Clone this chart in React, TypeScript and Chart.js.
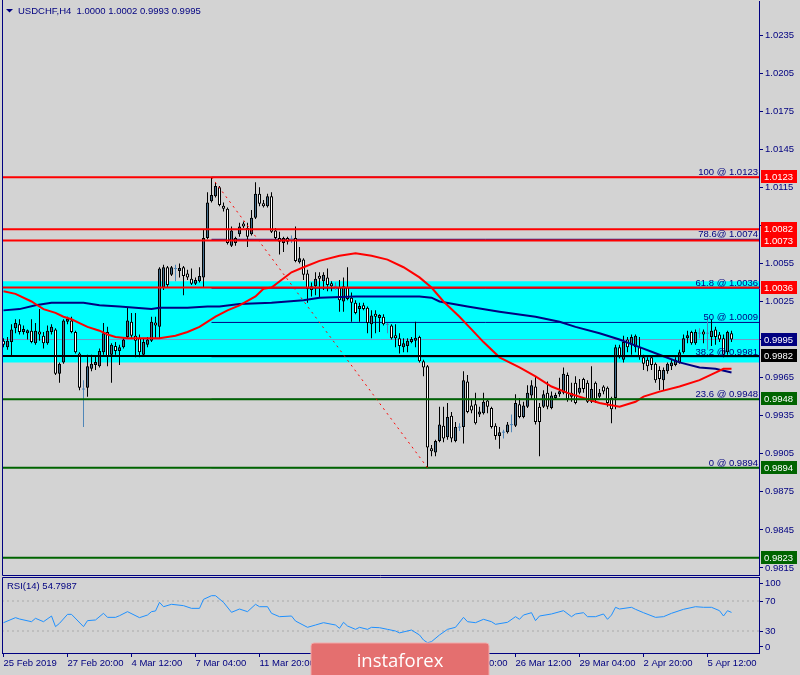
import React, { useEffect, useRef } from "react";
import { Chart, registerables } from "chart.js";

Chart.register(...registerables);

// ---------- data (USDCHF H4) ----------
const openPrices = [
  0.9994, 0.9989, 0.9993, 1.0004, 1.0007, 1.0001, 1.0000, 1.0002, 0.9992, 1.0001,
  0.9998, 0.9992, 1.0001, 1.0003, 0.9968, 0.9977, 1.0009, 1.0010, 1.0001, 0.9984,
  0.9956, 0.9957, 0.9972, 0.9975, 0.9974, 0.9985, 1.0001, 0.9983, 0.9990, 0.9986,
  0.9989, 0.9997, 1.0009, 0.9998, 0.9996, 0.9983, 0.9991, 0.9994, 1.0008, 1.0005,
  1.0036, 1.0052, 1.0046, 1.0051, 1.0049, 1.0052, 1.0047, 1.0043, 1.0039, 1.0041,
  1.0044, 1.0075, 1.0104, 1.0108, 1.0115, 1.0100, 1.0098, 1.0069, 1.0071, 1.0078,
  1.0086, 1.0083, 1.0078, 1.0091, 1.0110, 1.0101, 1.0100, 1.0108, 1.0081, 1.0075,
  1.0071, 1.0075, 1.0074, 1.0075, 1.0056, 1.0058, 1.0047, 1.0034, 1.0037, 1.0044,
  1.0041, 1.0044, 1.0038, 1.0037, 1.0036, 1.0025, 1.0036, 1.0028, 1.0024, 1.0019,
  1.0022, 1.0020, 1.0007, 1.0015, 1.0012, 1.0013, 1.0007, 1.0006, 0.9997, 0.9996,
  0.9989, 0.9990, 0.9993, 0.9994, 0.9997, 0.9978, 0.9974, 0.9909, 0.9906, 0.9915,
  0.9927, 0.9918, 0.9935, 0.9915, 0.9926, 0.9926, 0.9962, 0.9943, 0.9944, 0.9936,
  0.9937, 0.9947, 0.9941, 0.9927, 0.9919, 0.9922, 0.9922, 0.9928, 0.9927, 0.9944,
  0.9934, 0.9942, 0.9951, 0.9958, 0.9942, 0.9942, 0.9953, 0.9941, 0.9949, 0.9952,
  0.9953, 0.9967, 0.9950, 0.9961, 0.9953, 0.9964, 0.9961, 0.9946, 0.9961, 0.9950,
  0.9958, 0.9957, 0.9949, 0.9949, 0.9989, 0.9979, 0.9995, 0.9991, 0.9989, 0.9989,
  0.9981, 0.9979, 0.9981, 0.9976, 0.9971, 0.9963, 0.9970, 0.9974, 0.9975, 0.9977,
  0.9985, 0.9996, 1.0001, 0.9992, 1.0000, 1.0001, 1.0000, 0.9997, 1.0003, 0.9999,
  0.9996, 0.9985, 1.0000,
];
const highPrices = [
  0.9996, 0.9997, 1.0007, 1.0011, 1.0011, 1.0006, 1.0003, 1.0011, 1.0008, 1.0019,
  1.0001, 1.0006, 1.0007, 1.0004, 0.9977, 1.0011, 1.0013, 1.0013, 1.0002, 0.9985,
  0.9963, 0.9983, 0.9983, 0.9982, 0.9988, 1.0008, 1.0005, 0.9992, 0.9993, 0.9991,
  0.9997, 1.0020, 1.0016, 1.0016, 0.9999, 0.9996, 0.9997, 1.0013, 1.0013, 1.0052,
  1.0054, 1.0053, 1.0053, 1.0054, 1.0055, 1.0053, 1.0050, 1.0051, 1.0044, 1.0052,
  1.0082, 1.0111, 1.0123, 1.0119, 1.0116, 1.0103, 1.0099, 1.0084, 1.0076, 1.0087,
  1.0088, 1.0087, 1.0097, 1.0119, 1.0115, 1.0105, 1.0110, 1.0111, 1.0083, 1.0080,
  1.0076, 1.0076, 1.0077, 1.0084, 1.0068, 1.0059, 1.0050, 1.0040, 1.0048, 1.0048,
  1.0048, 1.0051, 1.0041, 1.0040, 1.0042, 1.0044, 1.0052, 1.0032, 1.0026, 1.0024,
  1.0024, 1.0021, 1.0018, 1.0018, 1.0015, 1.0015, 1.0008, 1.0007, 1.0007, 1.0000,
  0.9996, 0.9996, 0.9997, 1.0009, 0.9998, 0.9979, 0.9975, 0.9912, 0.9916, 0.9942,
  0.9942, 0.9945, 0.9938, 0.9930, 0.9929, 0.9970, 0.9967, 0.9948, 0.9953, 0.9942,
  0.9953, 0.9948, 0.9942, 0.9929, 0.9926, 0.9924, 0.9930, 0.9936, 0.9952, 0.9949,
  0.9946, 0.9959, 0.9963, 0.9966, 0.9945, 0.9955, 0.9962, 0.9954, 0.9953, 0.9965,
  0.9973, 0.9969, 0.9961, 0.9966, 0.9964, 0.9965, 0.9963, 0.9974, 0.9962, 0.9956,
  0.9959, 0.9958, 0.9950, 0.9991, 0.9991, 0.9998, 0.9997, 0.9999, 0.9999, 0.9997,
  0.9983, 0.9981, 0.9982, 0.9977, 0.9974, 0.9973, 0.9977, 0.9979, 0.9981, 0.9987,
  0.9999, 1.0002, 1.0002, 1.0003, 1.0004, 1.0003, 1.0012, 1.0011, 1.0005, 1.0001,
  0.9999, 1.0002, 1.0002,
];
const lowPrices = [
  0.9989, 0.9987, 0.9982, 1.0000, 0.9999, 0.9999, 0.9995, 0.9992, 0.9991, 0.9994,
  0.9988, 0.9991, 0.9999, 0.9967, 0.9961, 0.9976, 1.0007, 1.0000, 0.9984, 0.9955,
  0.9926, 0.9950, 0.9970, 0.9971, 0.9973, 0.9983, 0.9974, 0.9961, 0.9983, 0.9975,
  0.9988, 0.9996, 0.9996, 0.9981, 0.9981, 0.9982, 0.9989, 0.9993, 0.9996, 0.9996,
  1.0034, 1.0036, 1.0045, 1.0041, 1.0044, 1.0030, 1.0042, 1.0038, 1.0038, 1.0040,
  1.0036, 1.0074, 1.0103, 1.0107, 1.0100, 1.0096, 1.0070, 1.0068, 1.0069, 1.0076,
  1.0083, 1.0068, 1.0077, 1.0090, 1.0100, 1.0099, 1.0099, 1.0079, 1.0074, 1.0062,
  1.0064, 1.0070, 1.0071, 1.0056, 1.0055, 1.0042, 1.0024, 1.0029, 1.0030, 1.0028,
  1.0034, 1.0033, 1.0033, 1.0034, 1.0017, 1.0017, 1.0026, 1.0009, 1.0015, 1.0009,
  1.0018, 1.0000, 0.9996, 1.0000, 1.0001, 1.0006, 1.0000, 0.9995, 0.9989, 0.9984,
  0.9985, 0.9985, 0.9992, 0.9989, 0.9977, 0.9966, 0.9894, 0.9903, 0.9903, 0.9914,
  0.9914, 0.9916, 0.9914, 0.9914, 0.9923, 0.9913, 0.9937, 0.9937, 0.9928, 0.9934,
  0.9936, 0.9937, 0.9925, 0.9916, 0.9909, 0.9917, 0.9921, 0.9922, 0.9926, 0.9933,
  0.9933, 0.9941, 0.9948, 0.9928, 0.9903, 0.9941, 0.9940, 0.9940, 0.9948, 0.9950,
  0.9952, 0.9946, 0.9946, 0.9944, 0.9952, 0.9953, 0.9945, 0.9945, 0.9945, 0.9949,
  0.9952, 0.9942, 0.9929, 0.9940, 0.9980, 0.9977, 0.9985, 0.9983, 0.9985, 0.9979,
  0.9971, 0.9970, 0.9971, 0.9961, 0.9955, 0.9955, 0.9968, 0.9971, 0.9974, 0.9976,
  0.9984, 0.9992, 0.9991, 0.9991, 0.9996, 0.9992, 0.9987, 0.9990, 0.9991, 0.9993,
  0.9981, 0.9983, 0.9993,
];
const closePrices = [
  0.9991, 0.9994, 1.0003, 1.0008, 1.0001, 1.0003, 1.0002, 0.9993, 1.0002, 0.9999,
  0.9992, 1.0002, 1.0005, 0.9968, 0.9976, 1.0010, 1.0011, 1.0001, 0.9985, 0.9957,
  0.9956, 0.9974, 0.9976, 0.9977, 0.9986, 1.0000, 0.9982, 0.9991, 0.9986, 0.9989,
  0.9995, 1.0010, 0.9998, 0.9994, 0.9985, 0.9993, 0.9995, 1.0009, 1.0006, 1.0051,
  1.0052, 1.0038, 1.0052, 1.0051, 1.0051, 1.0045, 1.0044, 1.0039, 1.0042, 1.0045,
  1.0075, 1.0103, 1.0109, 1.0116, 1.0101, 1.0098, 1.0071, 1.0081, 1.0075, 1.0084,
  1.0084, 1.0076, 1.0091, 1.0110, 1.0102, 1.0100, 1.0108, 1.0080, 1.0075, 1.0072,
  1.0075, 1.0072, 1.0074, 1.0057, 1.0059, 1.0046, 1.0035, 1.0037, 1.0043, 1.0043,
  1.0046, 1.0038, 1.0037, 1.0037, 1.0026, 1.0037, 1.0027, 1.0024, 1.0016, 1.0021,
  1.0019, 1.0008, 1.0014, 1.0013, 1.0013, 1.0007, 1.0007, 0.9996, 0.9996, 0.9990,
  0.9992, 0.9994, 0.9995, 0.9996, 0.9978, 0.9973, 0.9910, 0.9907, 0.9915, 0.9928,
  0.9917, 0.9934, 0.9917, 0.9926, 0.9926, 0.9963, 0.9938, 0.9939, 0.9929, 0.9938,
  0.9946, 0.9942, 0.9926, 0.9919, 0.9922, 0.9922, 0.9928, 0.9928, 0.9945, 0.9934,
  0.9943, 0.9953, 0.9959, 0.9930, 0.9930, 0.9952, 0.9942, 0.9951, 0.9951, 0.9954,
  0.9968, 0.9948, 0.9953, 0.9945, 0.9957, 0.9956, 0.9946, 0.9956, 0.9948, 0.9953,
  0.9954, 0.9945, 0.9940, 0.9989, 0.9981, 0.9993, 0.9989, 0.9997, 0.9998, 0.9981,
  0.9976, 0.9974, 0.9975, 0.9963, 0.9964, 0.9971, 0.9976, 0.9977, 0.9979, 0.9985,
  0.9996, 0.9998, 0.9992, 1.0001, 1.0000, 0.9999, 1.0000, 1.0002, 0.9997, 0.9995,
  0.9983, 1.0001, 0.9995,
];

const timeTickIndex = [0, 16, 32, 48, 64, 80, 96, 112, 128, 144, 160, 176];
const timeTickLabels = [
  "25 Feb 2019", "27 Feb 20:00", "4 Mar 12:00", "7 Mar 04:00", "11 Mar 20:00", "14 Mar 12:00",
  "19 Mar 04:00", "21 Mar 20:00", "26 Mar 12:00", "29 Mar 04:00", "2 Apr 20:00", "5 Apr 12:00",
];

const priceTicks = [
  1.0235, 1.0205, 1.0175, 1.0145, 1.0115, 1.0085, 1.0055, 1.0025,
  0.9995, 0.9965, 0.9935, 0.9905, 0.9875, 0.9845, 0.9815,
];

const levelPrices = [1.0123, 1.0082, 1.0073, 1.0036, 0.9982, 0.9948, 0.9894, 0.9823];
const levelColors = ["#ff0000", "#ff0000", "#ff0000", "#ff0000", "#000000", "#006400", "#006400", "#006400"];

const boxPrices = [1.0123, 1.0082, 1.0073, 1.0036, 0.9995, 0.9982, 0.9948, 0.9894, 0.9823];
const boxLabels = ["1.0123", "1.0082", "1.0073", "1.0036", "0.9995", "0.9982", "0.9948", "0.9894", "0.9823"];
const boxColors = ["#ff0000", "#ff0000", "#ff0000", "#ff0000", "#000080", "#000000", "#006400", "#006400", "#006400"];

const bandTop = 1.0041;
const bandBottom = 0.9977;
const bidPrice = 0.9995;

const fibNames = ["100 @ 1.0123", "78.6@ 1.0074", "61.8 @ 1.0036", "50 @ 1.0009", "38.2 @ 0.9981", "23.6 @ 0.9948", "0 @ 0.9894"];
const fibPrices = [1.0123, 1.0074, 1.00355, 1.00085, 0.99815, 0.9948, 0.9894];
const fibStartIndex = 52;
const trendStart = { x: 52, y: 1.0123 };
const trendEnd = { x: 106, y: 0.9894 };

const maRedIdx = [0, 3, 7, 8, 10, 13, 15, 17, 19, 21, 24, 26, 28, 31, 37, 39, 43, 46, 49, 53, 56, 59, 63, 65, 67, 72, 75, 79, 84, 88, 92, 96, 100, 104, 107, 110, 114, 117, 120, 124, 129, 133, 137, 141, 145, 149, 154, 158, 160, 164, 169, 174, 178, 180, 182];
const maRedVal = [1.0033, 1.0031, 1.0025, 1.0023, 1.0019, 1.0016, 1.0013, 1.0011, 1.0008, 1.0005, 1.0002, 0.9999, 0.9997, 0.9996, 0.9996, 0.9996, 0.9998, 1.0001, 1.0005, 1.0013, 1.0018, 1.0022, 1.0029, 1.0035, 1.0036, 1.0048, 1.0052, 1.0057, 1.0061, 1.0063, 1.0061, 1.0058, 1.0052, 1.0044, 1.0036, 1.0025, 1.0013, 1.0003, 0.9993, 0.9981, 0.9973, 0.9966, 0.9958, 0.9953, 0.9949, 0.9945, 0.9942, 0.9946, 0.9950, 0.9954, 0.9958, 0.9963, 0.9969, 0.9972, 0.9972];

const maBlueIdx = [0, 4, 8, 12, 16, 20, 24, 29, 33, 37, 39, 46, 51, 54, 59, 67, 75, 79, 88, 96, 104, 107, 109, 116, 124, 133, 139, 143, 149, 154, 159, 164, 169, 174, 178, 182];
const maBlueVal = [1.0018, 1.0019, 1.0022, 1.0024, 1.0024, 1.0024, 1.0022, 1.0021, 1.0020, 1.0019, 1.0020, 1.0020, 1.0021, 1.0021, 1.0023, 1.0024, 1.0026, 1.0028, 1.0029, 1.0029, 1.0029, 1.0028, 1.0025, 1.0021, 1.0017, 1.0013, 1.0009, 1.0005, 1.0000, 0.9995, 0.9989, 0.9983, 0.9977, 0.9973, 0.9972, 0.9969];

const rsiIdx = [0, 3, 4, 7, 8, 10, 12, 13, 14, 16, 17, 20, 21, 23, 25, 26, 28, 29, 31, 34, 36, 37, 38, 39, 40, 42, 45, 47, 49, 50, 52, 53, 55, 57, 59, 61, 63, 64, 66, 67, 69, 72, 73, 76, 78, 80, 83, 84, 85, 86, 88, 89, 91, 92, 94, 96, 98, 99, 102, 104, 105, 106, 107, 109, 111, 113, 115, 116, 118, 120, 122, 123, 126, 128, 129, 130, 132, 133, 134, 137, 140, 142, 143, 145, 146, 148, 150, 151, 152, 153, 154, 157, 158, 160, 163, 165, 167, 170, 173, 175, 177, 179, 180, 181, 182];
const rsiVal = [41.1, 47.8, 46.0, 42.4, 46.9, 42.4, 50.0, 35.8, 40.2, 52.2, 52.2, 35.8, 43.8, 44.7, 53.6, 48.2, 48.2, 50.4, 55.8, 47.8, 51.3, 55.8, 56.7, 68.2, 62.4, 65.6, 63.8, 60.2, 60.2, 72.2, 77.1, 77.1, 68.2, 54.9, 59.3, 55.8, 65.6, 62.4, 62.4, 53.6, 49.1, 50.0, 43.3, 34.9, 38.0, 41.1, 38.0, 33.6, 41.6, 36.7, 32.2, 34.9, 32.2, 34.9, 34.4, 32.2, 30.0, 27.5, 31.3, 24.7, 18.0, 14.4, 15.8, 24.7, 32.2, 34.9, 48.2, 42.4, 41.1, 45.6, 42.4, 38.9, 41.6, 49.1, 45.6, 51.3, 54.4, 43.8, 50.0, 52.7, 57.1, 49.1, 52.7, 54.4, 49.1, 49.1, 52.7, 45.6, 51.3, 61.6, 59.3, 61.6, 58.9, 54.4, 48.2, 49.1, 53.6, 58.9, 62.4, 61.6, 61.6, 57.1, 50.0, 57.1, 54.8];
const rsiLevels = [70, 30];
const rsiTicks = [100, 70, 30, 0];

const headerText = "USDCHF,H4  1.0000 1.0002 0.9993 0.9995";
const rsiTitle = "RSI(14) 54.7987";
const watermarkText = "instaforex";

// ---------- style ----------
const NAVY = "#000080";
const BG = "#d3d3d3";
const BULL = "#46708f";
const BEAR = "#ffffff";
const STEEL = "#4f86b8";
const FONT = '"Liberation Sans", Arial, sans-serif';
const FS = 9.5;

const X_MIN = -0.375;
const X_MAX = 188.875;
const Y_MIN = 0.9809468;
const Y_MAX = 1.0261793;
const RSI_MIN = 0.67;
const RSI_MAX = 102;

const isDoji = (i: number) => openPrices[i] === closePrices[i];

function hLine(y: number, color: string, width: number, x0 = X_MIN, x1 = X_MAX, dash: number[] = []) {
  return {
    type: "line",
    data: [{ x: x0, y }, { x: x1, y }],
    borderColor: color,
    borderWidth: width,
    borderDash: dash,
    pointRadius: 0,
    pointHoverRadius: 0,
    fill: false,
    tension: 0,
  };
}

const fitY = (s: any) => {
  s.width = 41;
  s.paddingTop = 0;
  s.paddingBottom = 0;
};
const fitX = (s: any) => {
  s.height = 22;
  s.paddingLeft = 0;
  s.paddingRight = 0;
};

const mainOverlay = {
  id: "mainOverlay",
  afterDraw(chart: any) {
    const { ctx, chartArea: a, scales } = chart;
    const y = scales.y;
    ctx.save();
    ctx.strokeStyle = NAVY;
    ctx.lineWidth = 1;
    ctx.beginPath();
    ctx.moveTo(a.left + 0.5, 0);
    ctx.lineTo(a.left + 0.5, a.bottom + 0.5);
    ctx.lineTo(a.right, a.bottom + 0.5);
    ctx.stroke();

    ctx.fillStyle = NAVY;
    ctx.beginPath();
    ctx.moveTo(6, 9);
    ctx.lineTo(13, 9);
    ctx.lineTo(9.5, 12.5);
    ctx.closePath();
    ctx.fill();
    ctx.font = `${FS}px ${FONT}`;
    ctx.textAlign = "left";
    ctx.textBaseline = "middle";
    ctx.fillText(headerText, 18, 11);

    ctx.textAlign = "right";
    ctx.textBaseline = "alphabetic";
    fibNames.forEach((t, k) => {
      ctx.fillText(t, a.right - 1, y.getPixelForValue(fibPrices[k]) - 2);
    });

    boxPrices.forEach((p, k) => {
      const py = Math.round(y.getPixelForValue(p));
      ctx.fillStyle = boxColors[k];
      ctx.fillRect(a.right + 2, py - 7, 36, 13);
      ctx.fillStyle = "#ffffff";
      ctx.textAlign = "left";
      ctx.textBaseline = "middle";
      ctx.fillText(boxLabels[k], a.right + 5, py);
    });
    ctx.restore();
  },
};

const rsiOverlay = {
  id: "rsiOverlay",
  afterDraw(chart: any) {
    const { ctx, chartArea: a } = chart;
    ctx.save();
    ctx.strokeStyle = NAVY;
    ctx.lineWidth = 1;
    ctx.beginPath();
    ctx.moveTo(a.left + 0.5, a.bottom);
    ctx.lineTo(a.left + 0.5, a.top + 0.5);
    ctx.lineTo(a.right, a.top + 0.5);
    ctx.stroke();

    ctx.fillStyle = NAVY;
    ctx.font = `${FS}px ${FONT}`;
    ctx.textAlign = "left";
    ctx.textBaseline = "middle";
    ctx.fillText(rsiTitle, 7, a.top + 9);

    // watermark
    const x = 311, yy = 67, w = 178, h = 40, r = 3;
    ctx.beginPath();
    ctx.moveTo(x + r, yy);
    ctx.lineTo(x + w - r, yy);
    ctx.quadraticCurveTo(x + w, yy, x + w, yy + r);
    ctx.lineTo(x + w, yy + h);
    ctx.lineTo(x, yy + h);
    ctx.lineTo(x, yy + r);
    ctx.quadraticCurveTo(x, yy, x + r, yy);
    ctx.closePath();
    ctx.fillStyle = "#e46f6f";
    ctx.fill();
    ctx.strokeStyle = "#f1aaaa";
    ctx.lineWidth = 1;
    ctx.stroke();
    ctx.fillStyle = "#ffffff";
    ctx.font = '18.5px "Open Sans", "Liberation Sans", sans-serif';
    ctx.textAlign = "center";
    ctx.textBaseline = "alphabetic";
    ctx.fillText(watermarkText, 400, 91);
    ctx.restore();
  },
};

function mainConfig(): any {
  const idx = openPrices.map((_, i) => i);
  const dojiIdx = idx.filter((i) => isDoji(i));
  const datasets: any[] = [];
  datasets.push({ ...hLine(0, "#ff0000", 1), data: [trendStart, trendEnd], borderDash: [2, 4] });
  levelPrices.forEach((p, k) => datasets.push(hLine(p, levelColors[k], 2)));
  datasets.push({
    type: "line",
    data: maRedIdx.map((x, k) => ({ x, y: maRedVal[k] })),
    borderColor: "#ff0000",
    borderWidth: 2,
    pointRadius: 0,
    fill: false,
    tension: 0,
  });
  datasets.push({
    type: "line",
    data: maBlueIdx.map((x, k) => ({ x, y: maBlueVal[k] })),
    borderColor: NAVY,
    borderWidth: 2,
    pointRadius: 0,
    fill: false,
    tension: 0,
  });
  datasets.push({
    type: "line",
    data: dojiIdx.map((i) => ({ x: i, y: closePrices[i] })),
    showLine: false,
    pointStyle: "line",
    pointRadius: 1.5,
    pointHoverRadius: 1.5,
    pointBorderWidth: 1,
    pointBorderColor: STEEL,
    borderColor: STEEL,
  });
  datasets.push({
    type: "bar",
    data: idx.map((i) => ({ x: i, y: isDoji(i) ? null : [openPrices[i], closePrices[i]] })),
    backgroundColor: (c: any) => (closePrices[c.dataIndex] > openPrices[c.dataIndex] ? BULL : BEAR),
    borderColor: "#000000",
    borderWidth: 1,
    borderSkipped: false,
    barThickness: 3,
    minBarLength: 3,
    grouped: false,
    inflateAmount: 0,
  });
  datasets.push({
    type: "bar",
    data: idx.map((i) => ({ x: i, y: [lowPrices[i], highPrices[i]] })),
    backgroundColor: (c: any) => (isDoji(c.dataIndex) ? STEEL : "#000000"),
    borderWidth: 0,
    barThickness: 1,
    grouped: false,
    inflateAmount: 0,
  });
  fibPrices.forEach((p) => datasets.push(hLine(p, NAVY, 1, fibStartIndex, X_MAX)));
  datasets.push(hLine(bidPrice, "#7a93c4", 1));
  datasets.push({
    ...hLine(bandTop, "#00ffff", 0),
    fill: { value: bandBottom },
    backgroundColor: "#00ffff",
  });

  return {
    type: "bar",
    data: { datasets },
    options: {
      responsive: false,
      animation: false,
      devicePixelRatio: 1,
      events: [],
      layout: { autoPadding: false, padding: { left: 2, top: 1, right: 0, bottom: 2 } },
      plugins: { legend: { display: false }, tooltip: { enabled: false } },
      scales: {
        x: { type: "linear", min: X_MIN, max: X_MAX, display: false, offset: false },
        y: {
          type: "linear",
          position: "right",
          min: Y_MIN,
          max: Y_MAX,
          afterFit: fitY,
          afterBuildTicks: (s: any) => { s.ticks = priceTicks.map((v) => ({ value: v })); },
          ticks: {
            callback: (v: any) => Number(v).toFixed(4),
            color: NAVY,
            font: { family: FONT, size: FS },
            padding: 2,
            autoSkip: false,
          },
          grid: { drawOnChartArea: false, drawTicks: true, tickLength: 4, color: NAVY },
          border: { display: true, color: NAVY, width: 1 },
        },
      },
    },
    plugins: [mainOverlay],
  };
}

function rsiConfig(): any {
  const datasets: any[] = [];
  datasets.push({
    type: "line",
    data: rsiIdx.map((x, k) => ({ x, y: rsiVal[k] })),
    borderColor: "#1e90ff",
    borderWidth: 1,
    pointRadius: 0,
    fill: false,
    tension: 0,
  });
  rsiLevels.forEach((v) => datasets.push(hLine(v, "#a9a9a9", 1, X_MIN, X_MAX, [2, 3])));
  return {
    type: "line",
    data: { datasets },
    options: {
      responsive: false,
      animation: false,
      devicePixelRatio: 1,
      events: [],
      layout: { autoPadding: false, padding: { left: 2, top: 1, right: 0, bottom: 0 } },
      plugins: { legend: { display: false }, tooltip: { enabled: false } },
      scales: {
        x: {
          type: "linear",
          min: X_MIN,
          max: X_MAX,
          position: "bottom",
          offset: false,
          afterFit: fitX,
          afterBuildTicks: (s: any) => { s.ticks = timeTickIndex.map((v) => ({ value: v })); },
          ticks: {
            callback: (_v: any, i: number) => timeTickLabels[i],
            align: "start",
            maxRotation: 0,
            minRotation: 0,
            autoSkip: false,
            color: NAVY,
            font: { family: FONT, size: FS },
            padding: 1,
          },
          grid: { drawOnChartArea: false, drawTicks: true, tickLength: 4, color: NAVY },
          border: { display: true, color: NAVY, width: 1 },
        },
        y: {
          type: "linear",
          position: "right",
          min: RSI_MIN,
          max: RSI_MAX,
          afterFit: fitY,
          afterBuildTicks: (s: any) => {
            s.ticks = rsiTicks.map((v) => ({ value: Math.min(Math.max(v, RSI_MIN + 8), RSI_MAX - 9) }));
          },
          ticks: {
            callback: (_v: any, i: number) => String(rsiTicks[i]),
            color: NAVY,
            font: { family: FONT, size: FS },
            padding: 2,
            autoSkip: false,
          },
          grid: { drawOnChartArea: false, drawTicks: true, tickLength: 4, color: NAVY },
          border: { display: true, color: NAVY, width: 1 },
        },
      },
    },
    plugins: [rsiOverlay],
  };
}

export default function App() {
  const mainRef = useRef<HTMLCanvasElement>(null);
  const rsiRef = useRef<HTMLCanvasElement>(null);

  useEffect(() => {
    const main = new Chart(mainRef.current as HTMLCanvasElement, mainConfig());
    const rsi = new Chart(rsiRef.current as HTMLCanvasElement, rsiConfig());
    return () => {
      main.destroy();
      rsi.destroy();
    };
  }, []);

  return (
    <div style={{ position: "fixed", left: 0, top: 0, width: 800, height: 675, background: BG, overflow: "hidden" }}>
      <canvas ref={mainRef} width={800} height={577} style={{ position: "absolute", left: 0, top: 0, width: 800, height: 577 }} />
      <canvas ref={rsiRef} width={800} height={99} style={{ position: "absolute", left: 0, top: 576, width: 800, height: 99 }} />
    </div>
  );
}
